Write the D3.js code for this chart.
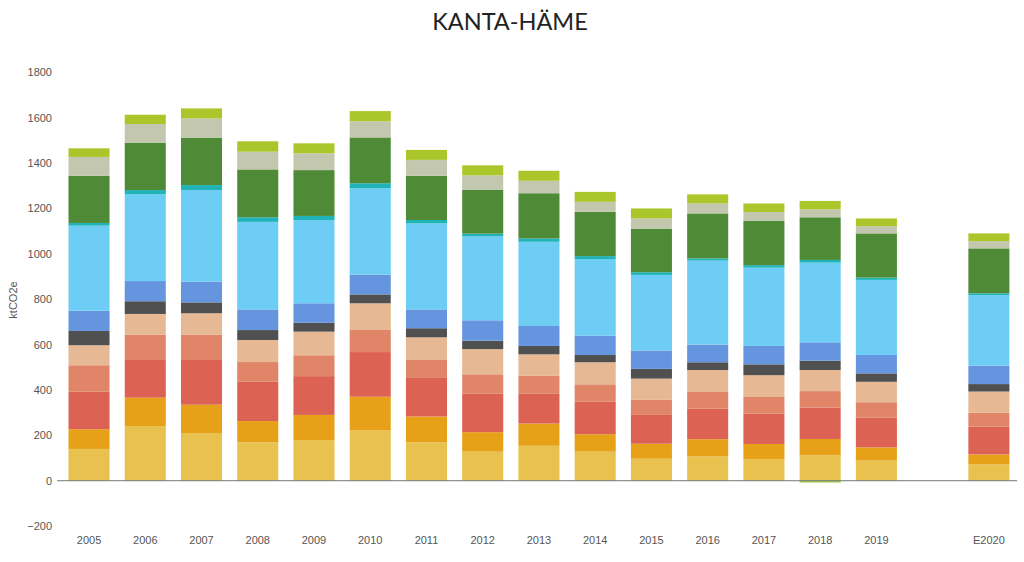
<!DOCTYPE html>
<html><head><meta charset="utf-8">
<script src="https://cdn.jsdelivr.net/npm/d3@7"></script>
<style>body{margin:0;background:#fff}svg{display:block}</style>
</head><body>
<svg id="c" width="1024" height="562"></svg>
<script>
const categories = ["2005","2006","2007","2008","2009","2010","2011","2012","2013","2014","2015","2016","2017","2018","2019","","E2020"];
const seriesNames = ["s1","s2","s3","s4","s5","s6","s7","s8","s9","s10","s11","s12"];
const s1  = [140,241,210,169,179,223,169,128,154,128, 97,108, 96,112, 89,null, 72];
const s2  = [ 87,125,125, 94,111,147,114, 86, 98, 77, 66, 75, 66, 72, 58,null, 44];
const s3  = [165,166,197,173,171,197,173,169,131,143,127,134,133,138,132,null,122];
const s4  = [117,112,112, 87, 92,100, 76, 86, 79, 77, 68, 74, 74, 73, 67,null, 62];
const s5  = [ 88, 91, 94, 97,104,115,100,111, 95, 97, 92, 97, 96, 93, 90,null, 93];
const s6  = [ 63, 56, 48, 44, 39, 39, 40, 37, 37, 32, 43, 34, 48, 41, 37,null, 33];
const s7  = [ 89, 89, 91, 91, 86, 87, 83, 90, 88, 85, 81, 78, 81, 81, 81,null, 81];
const s8  = [375,382,404,386,367,381,379,370,371,338,333,370,345,351,331,null,311];
const s9  = [ 12, 19, 22, 20, 18, 22, 15, 12, 15, 13, 12, 10, 11, 12, 10,null,  8];
const s10 = [208,209,209,211,202,202,195,194,199,195,192,198,196,188,195,null,198];
const s11 = [ 83, 82, 85, 78, 74, 71, 70, 63, 55, 44, 45, 44, 38, 35, 32,null, 32];
const s12 = [ 38, 41, 44, 46, 44, 45, 44, 44, 44, 44, 44, 40, 38, 37, 34,null, 34];
const s12neg = [0,0,0,0,0,0,0,0,0,0,0,0,0,-8,0,null,0];
const yTicks = [-200,0,200,400,600,800,1000,1200,1400,1600,1800];
const colors = ["#e8c14e","#e6a118","#dc6353","#e08567","#e6b994","#505050","#6495de","#6dcdf5","#20b3b8","#4f8a36","#c2c7ad","#abc62b","#9bc94a"];

const allSeries = [s1,s2,s3,s4,s5,s6,s7,s8,s9,s10,s11,s12,s12neg];
const keys = allSeries.map((d,i)=>"k"+i);
const table = categories.map((c,j)=>{const o={cat:c}; allSeries.forEach((s,i)=>o[keys[i]]=s[j]==null?0:s[j]); return o;});

const svg = d3.select("#c");
const x = d3.scaleBand().domain(categories).range([60.9,1017]).paddingInner(0.27).paddingOuter(0.135);
const y = d3.scaleLinear().domain([-200,1800]).range([526.1,72.3]);

const stack = d3.stack().keys(keys).offset(d3.stackOffsetDiverging);
const layers = stack(table);

svg.append("g").selectAll("g").data(layers).join("g")
  .attr("fill",(d,i)=>colors[i])
  .selectAll("rect").data(d=>d.filter(p=>p.data.cat!=="" && p[1]!==p[0])).join("rect")
  .attr("x",d=>x(d.data.cat))
  .attr("width",x.bandwidth())
  .attr("y",d=>y(Math.max(d[0],d[1])))
  .attr("height",d=>Math.abs(y(d[0])-y(d[1])));

// zero line
svg.append("line").attr("x1",57).attr("x2",1017).attr("y1",y(0)).attr("y2",y(0))
  .attr("stroke","#777").attr("stroke-width",1);

// y axis
const ya = svg.append("g").attr("transform","translate(57,0)")
  .call(d3.axisLeft(y).tickValues(yTicks).tickSize(0).tickPadding(5).tickFormat(d3.format("d")));
ya.select(".domain").remove();
ya.selectAll("text").attr("fill","#555").style("font-family","Liberation Sans, Arial, sans-serif").style("font-size","11px");

// x axis
const xa = svg.append("g").attr("transform","translate(0,526)")
  .call(d3.axisBottom(x).tickSize(0).tickPadding(10));
xa.select(".domain").remove();
xa.selectAll("text").attr("fill","#555").style("font-family","Liberation Sans, Arial, sans-serif").style("font-size","11px");

// y label
svg.append("text").attr("transform","translate(17,300) rotate(-90)").attr("text-anchor","middle")
  .attr("fill","#555").style("font-family","Liberation Sans, Arial, sans-serif").style("font-size","11px").text("ktCO2e");

// title
svg.append("text").attr("x",510).attr("y",30).attr("text-anchor","middle")
  .attr("fill","#222").style("font-family","Lato, sans-serif").style("font-size","23.5px").text("KANTA-HÄME");
</script>
</body></html>
